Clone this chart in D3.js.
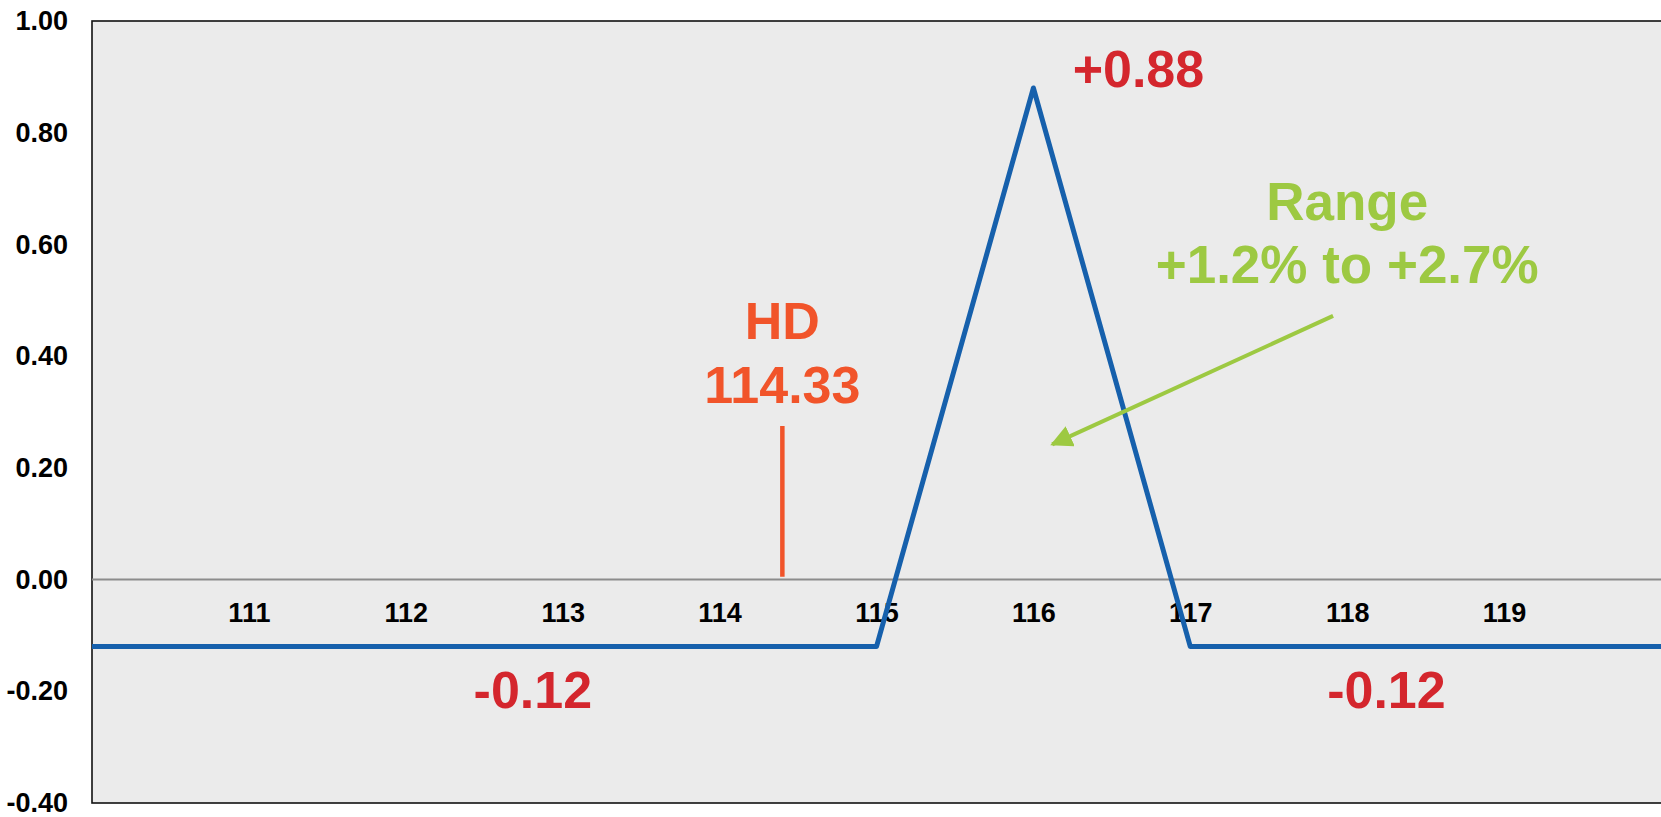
<!DOCTYPE html>
<html>
<head>
<meta charset="utf-8">
<script src="https://cdn.jsdelivr.net/npm/d3@7"></script>
<style>
  body { margin: 0; background: #ffffff; }
  svg { display: block; }
  text { font-family: Arial, "Liberation Sans", sans-serif; font-weight: bold; }
</style>
</head>
<body>
<div id="chart"></div>
<script>
// payoff profile (price -> P/L)
var priceX = [110, 115, 116, 117, 120];
var payoffY = [-0.12, -0.12, 0.88, -0.12, -0.12];
var xTicks = [111, 112, 113, 114, 115, 116, 117, 118, 119];
var yTicks = [-0.4, -0.2, 0, 0.2, 0.4, 0.6, 0.8, 1.0];
var hdLabel = ["HD", "114.33"];
var hdPrice = 114.4;
var peakLabel = "+0.88";
var floorLabel = "-0.12";
var rangeLabel = ["Range", "+1.2% to +2.7%"];

var width = 1661, height = 817;
var plotLeft = 92, plotTop = 21, plotBottom = 803;
var lineColor = "#1660ac";
var red = "#d4262d";
var orange = "#f1542a";
var green = "#9dc942";

var svg = d3.select("#chart").append("svg")
    .attr("width", width)
    .attr("height", height);

var x = d3.scaleLinear().domain([110, 120]).range([plotLeft, width]);
var y = d3.scaleLinear().domain([-0.4, 1.0]).range([plotBottom, plotTop]);

// plot background
svg.append("rect")
    .attr("x", plotLeft)
    .attr("y", plotTop)
    .attr("width", width - plotLeft + 2)
    .attr("height", plotBottom - plotTop)
    .attr("fill", "#ebebeb")
    .attr("stroke", "#111")
    .attr("stroke-width", 1.6);

// zero line
svg.append("line")
    .attr("x1", x(110)).attr("x2", x(120))
    .attr("y1", y(0)).attr("y2", y(0))
    .attr("stroke", "#8c8c8c")
    .attr("stroke-width", 2);

// y axis labels (plain hyphen for the minus sign)
var yAxis = d3.axisLeft(y)
    .tickValues(yTicks)
    .tickFormat(function(d) { return d.toFixed(2); })
    .tickSize(0)
    .tickPadding(24);
var yg = svg.append("g")
    .attr("transform", "translate(" + plotLeft + ",0)")
    .call(yAxis);
yg.select(".domain").remove();
yg.selectAll("text")
    .attr("font-size", 27)
    .attr("fill", "#000")
    .style("font-family", "Arial, 'Liberation Sans', sans-serif")
    .style("font-weight", "bold");

// x labels sit just under the zero line
var xAxis = d3.axisBottom(x)
    .tickValues(xTicks)
    .tickFormat(d3.format("d"))
    .tickSize(0)
    .tickPadding(23);
var xg = svg.append("g")
    .attr("transform", "translate(0," + y(0) + ")")
    .call(xAxis);
xg.select(".domain").remove();
xg.selectAll("text")
    .attr("font-size", 27)
    .attr("fill", "#000")
    .style("font-family", "Arial, 'Liberation Sans', sans-serif")
    .style("font-weight", "bold");

// payoff line
var pts = priceX.map(function(d, i) { return [d, payoffY[i]]; });
var line = d3.line()
    .x(function(d) { return x(d[0]); })
    .y(function(d) { return y(d[1]); });
svg.append("path")
    .datum(pts)
    .attr("d", line)
    .attr("fill", "none")
    .attr("stroke", lineColor)
    .attr("stroke-width", 5)
    .attr("stroke-linejoin", "round");

// HD marker
svg.append("line")
    .attr("x1", x(hdPrice)).attr("x2", x(hdPrice))
    .attr("y1", y(0.275)).attr("y2", y(0.005))
    .attr("stroke", orange)
    .attr("stroke-width", 4.5);
svg.append("text")
    .attr("x", x(hdPrice)).attr("y", y(0.43))
    .attr("text-anchor", "middle")
    .attr("font-size", 52)
    .attr("fill", orange)
    .text(hdLabel[0]);
svg.append("text")
    .attr("x", x(hdPrice)).attr("y", y(0.316))
    .attr("text-anchor", "middle")
    .attr("font-size", 52)
    .attr("fill", orange)
    .text(hdLabel[1]);

// value labels
svg.append("text")
    .attr("x", x(116.25)).attr("y", y(0.882))
    .attr("font-size", 52)
    .attr("fill", red)
    .text(peakLabel);
svg.append("text")
    .attr("x", x(112.81)).attr("y", y(-0.23))
    .attr("text-anchor", "middle")
    .attr("font-size", 52)
    .attr("fill", red)
    .text(floorLabel);
svg.append("text")
    .attr("x", x(118.25)).attr("y", y(-0.23))
    .attr("text-anchor", "middle")
    .attr("font-size", 52)
    .attr("fill", red)
    .text(floorLabel);

// range note and arrow
svg.append("text")
    .attr("x", x(118.0)).attr("y", y(0.643))
    .attr("text-anchor", "middle")
    .attr("font-size", 53)
    .attr("fill", green)
    .text(rangeLabel[0]);
svg.append("text")
    .attr("x", x(118.0)).attr("y", y(0.531))
    .attr("text-anchor", "middle")
    .attr("font-size", 53)
    .attr("fill", green)
    .text(rangeLabel[1]);

svg.append("defs").append("marker")
    .attr("id", "arrowhead")
    .attr("viewBox", "0 0 10 10")
    .attr("refX", 9)
    .attr("refY", 5)
    .attr("markerWidth", 5.5)
    .attr("markerHeight", 5.5)
    .attr("markerUnits", "strokeWidth")
    .attr("orient", "auto")
    .append("path")
    .attr("d", "M0,0 L10,5 L0,10 Z")
    .attr("fill", green);

svg.append("line")
    .attr("x1", x(117.91)).attr("y1", y(0.472))
    .attr("x2", x(116.12)).attr("y2", y(0.242))
    .attr("stroke", green)
    .attr("stroke-width", 4)
    .attr("marker-end", "url(#arrowhead)");
</script>
</body>
</html>
